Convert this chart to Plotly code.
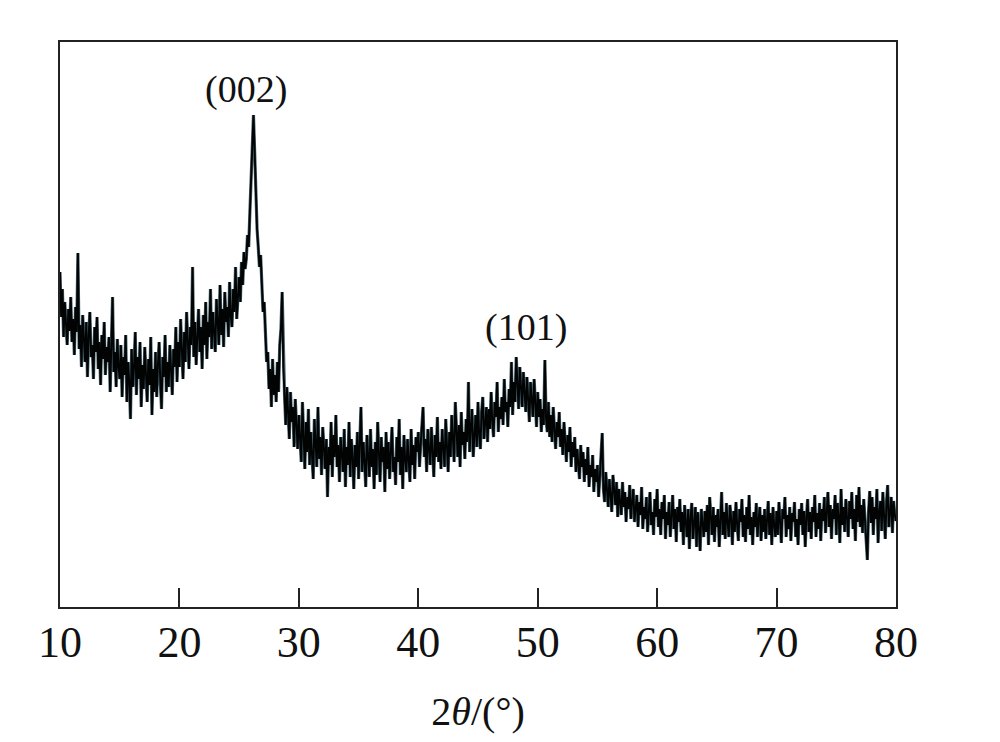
import plotly.graph_objects as go

# XRD scan: 2-theta step 0.1 deg, intensities (a.u.)
STEP = 0.1
seg_starts = [10.0, 20.0, 30.0, 40.0, 50.0, 60.0, 70.0]

int_10_20 = [335, 290, 318, 270, 305, 282, 262, 298, 276, 310,
             265, 288, 252, 300, 275, 354, 258, 282, 240, 292,
             268, 245, 285, 230, 272, 295, 250, 262, 228, 280,
             255, 290, 238, 265, 222, 272, 248, 285, 232, 260,
             245, 270, 215, 262, 310, 235, 255, 220, 268, 240,
             228, 262, 210, 250, 232, 272, 205, 245, 225, 188,
             258, 220, 240, 275, 212, 250, 228, 265, 200, 242,
             218, 260, 232, 205, 248, 222, 270, 192, 238, 215,
             255, 210, 242, 265, 225, 198, 250, 230, 272, 215,
             245, 220, 262, 235, 212, 258, 240, 280, 225, 265]
int_20_30 = [240, 288, 252, 228, 275, 245, 295, 258, 238, 280,
             262, 340, 250, 285, 242, 270, 298, 255, 280, 238,
             292, 262, 305, 248, 285, 270, 318, 258, 295, 275,
             255, 308, 280, 262, 322, 272, 298, 260, 315, 285,
             300, 270, 325, 290, 280, 318, 295, 340, 288, 310,
             330, 305, 345, 322, 355, 338, 348, 372, 360, 395,
             430, 462, 492, 455, 410, 378, 360, 340, 352, 322,
             295, 305, 262, 245, 255, 218, 238, 200, 248, 212,
             232, 205, 245, 215, 262, 278, 315, 240, 212, 182,
             220, 195, 168, 215, 185, 200, 160, 208, 178, 158]
int_30_40 = [192, 160, 145, 205, 170, 138, 185, 155, 198, 142,
             175, 150, 128, 188, 162, 140, 200, 148, 170, 132,
             180, 155, 138, 168, 110, 160, 142, 185, 130, 172,
             150, 192, 140, 162, 125, 170, 148, 135, 178, 120,
             160, 142, 185, 130, 168, 150, 118, 162, 140, 175,
             128, 158, 200, 135, 165, 145, 120, 172, 150, 130,
             178, 140, 158, 118, 165, 132, 185, 148, 125, 170,
             145, 160, 115, 175, 138, 165, 128, 155, 180, 135,
             150, 122, 170, 145, 188, 132, 160, 118, 172, 148,
             135, 168, 150, 125, 178, 142, 162, 128, 170, 155]
int_40_50 = [175, 140, 162, 185, 200, 150, 168, 135, 178, 158,
             142, 180, 160, 130, 172, 150, 190, 145, 165, 138,
             178, 155, 140, 188, 162, 135, 175, 150, 192, 160,
             145, 205, 168, 150, 182, 140, 195, 162, 175, 148,
             188, 165, 225, 155, 180, 198, 150, 175, 192, 160,
             205, 172, 158, 195, 210, 168, 185, 200, 165, 198,
             178, 215, 185, 170, 205, 190, 225, 175, 200, 188,
             210, 182, 228, 195, 205, 180, 218, 200, 245, 192,
             225, 205, 250, 215, 198, 240, 220, 200, 235, 212,
             195, 230, 205, 185, 225, 210, 190, 228, 198, 180]
int_50_60 = [215, 190, 208, 175, 198, 182, 247, 188, 175, 205,
             170, 192, 165, 200, 178, 158, 185, 170, 195, 160,
             178, 152, 185, 160, 145, 172, 155, 180, 140, 165,
             150, 170, 135, 158, 145, 128, 162, 140, 155, 125,
             148, 132, 160, 120, 142, 130, 152, 115, 138, 125,
             142, 110, 130, 148, 174, 118, 105, 135, 120, 100,
             128, 110, 95, 132, 115, 102, 125, 90, 118, 105,
             92, 125, 100, 115, 85, 110, 98, 122, 88, 105,
             118, 85, 100, 112, 80, 105, 92, 120, 78, 100,
             88, 110, 75, 98, 115, 82, 95, 72, 108, 90]
int_60_70 = [118, 80, 98, 72, 105, 88, 112, 68, 95, 82,
             105, 70, 92, 112, 78, 98, 65, 100, 85, 108,
             75, 95, 62, 102, 85, 70, 98, 58, 90, 104,
             68, 88, 100, 60, 95, 78, 56, 98, 82, 70,
             96, 75, 102, 62, 110, 85, 72, 100, 65, 92,
             80, 98, 60, 88, 115, 72, 95, 68, 104, 85,
             70, 102, 88, 62, 96, 75, 105, 82, 66, 98,
             85, 108, 70, 92, 65, 100, 78, 112, 72, 90,
             62, 95, 80, 104, 70, 88, 100, 66, 92, 75,
             98, 68, 85, 106, 72, 94, 62, 100, 82, 70]
int_70_80 = [96, 72, 105, 82, 64, 98, 88, 110, 70, 92,
             78, 100, 66, 94, 85, 105, 70, 88, 62, 98,
             82, 104, 72, 96, 60, 90, 108, 75, 95, 68,
             100, 85, 112, 70, 94, 78, 104, 66, 98, 86,
             110, 74, 96, 115, 80, 102, 68, 98, 88, 112,
             72, 104, 90, 64, 118, 82, 100, 75, 108, 92,
             70, 106, 88, 115, 78, 98, 66, 112, 85, 120,
             80, 102, 74, 108, 90, 62, 47, 95, 116, 84,
             110, 72, 100, 88, 118, 64, 96, 106, 76, 115,
             88, 68, 104, 122, 80, 98, 110, 74, 106, 92,
             86]

segments = [int_10_20, int_20_30, int_30_40, int_40_50, int_50_60, int_60_70, int_70_80]

two_theta, intensity = [], []
for start, seg in zip(seg_starts, segments):
    for i, v in enumerate(seg):
        two_theta.append(round(start + STEP * i, 1))
        intensity.append(v)

x_ticks = [10, 20, 30, 40, 50, 60, 70, 80]
peak_labels = ["(002)", "(101)"]
peak_label_x = [25.6, 49.0]
peak_label_y = [518, 280]

SERIF = "Liberation Serif, Times New Roman, serif"

fig = go.Figure()
fig.add_trace(go.Scatter(x=two_theta, y=intensity, mode="lines",
                         line=dict(color="#46626e", width=3.2), hoverinfo="skip",
                         showlegend=False))
fig.add_trace(go.Scatter(x=two_theta, y=intensity, mode="lines",
                         line=dict(color="#020303", width=1.9),
                         showlegend=False))

for txt, xx, yy in zip(peak_labels, peak_label_x, peak_label_y):
    fig.add_annotation(x=xx, y=yy, text=txt, showarrow=False,
                       xanchor="center", yanchor="middle",
                       font=dict(family=SERIF, size=38, color="#111"))

fig.update_layout(
    width=992, height=734,
    margin=dict(l=52, r=104, t=34, b=135),
    paper_bgcolor="white", plot_bgcolor="white",
    showlegend=False,
    font=dict(family=SERIF, color="#111"),
)
fig.update_xaxes(
    range=[10, 80], tickvals=x_ticks, ticktext=[str(t) for t in x_ticks],
    ticks="inside", ticklen=19, tickwidth=2, tickcolor="#222",
    ticklabelstandoff=-5,
    showline=True, linecolor="#222", linewidth=2, mirror=True,
    showgrid=False, zeroline=False,
    tickfont=dict(family=SERIF, size=44, color="#111"),
    title=dict(text="2<i>θ</i>/(°)", font=dict(family=SERIF, size=40, color="#111"), standoff=31),
)
fig.update_yaxes(
    range=[0, 565], showticklabels=False, ticks="",
    showline=True, linecolor="#222", linewidth=2, mirror=True,
    showgrid=False, zeroline=False,
)

fig.write_html("out.html")
